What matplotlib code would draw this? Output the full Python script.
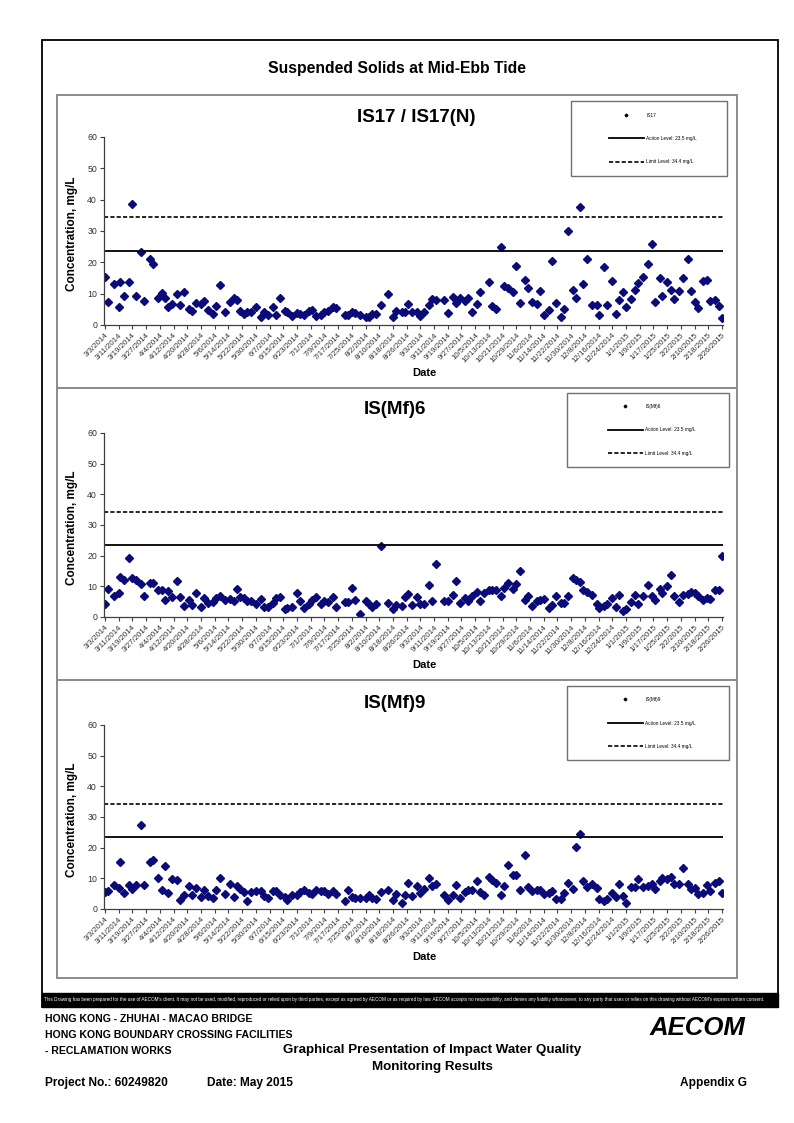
import numpy as np
import pandas as pd
import matplotlib
matplotlib.use("Agg")
import matplotlib.pyplot as plt
from matplotlib.lines import Line2D
from matplotlib.patches import Rectangle

# %% data (days since 3/3/2014, values in mg/L)
start_date = "2014-03-03"
days = [0, 2, 5, 8, 9, 11, 14, 16, 18, 21, 23, 26, 28, 31, 33, 35, 37, 39, 42, 44,
        46, 49, 51, 53, 56, 58, 60, 63, 65, 67, 70, 73, 75, 77, 79, 81, 83, 85, 88, 91,
        93, 95, 98, 100, 102, 105, 106, 109, 112, 114, 116, 119, 121, 123, 126, 128, 130, 133, 135, 140,
        142, 144, 146, 149, 152, 154, 156, 158, 161, 165, 168, 170, 173, 175, 177, 179, 182, 184, 186, 189,
        191, 193, 198, 200, 203, 205, 207, 210, 212, 214, 217, 219, 221, 224, 226, 228, 231, 233, 235, 238,
        240, 242, 245, 247, 249, 252, 254, 256, 259, 261, 263, 266, 268, 270, 273, 275, 277, 279, 281, 284,
        287, 288, 291, 293, 296, 298, 300, 302, 304, 307, 309, 311, 314, 317, 319, 321, 324, 325, 328, 330,
        332, 335, 337, 340, 342, 344, 346, 349, 351, 353, 356, 358, 360]

is17 = [15.2, 7.2, 13.0, 5.9, 13.8, 9.2, 13.6, 38.6, 9.3, 23.3, 7.8, 21.2, 19.4, 8.6, 10.2, 8.6, 5.7, 6.6, 9.8, 6.3,
        10.6, 5.2, 4.5, 7.1, 6.8, 7.6, 4.9, 3.4, 6.1, 12.8, 4.2, 7.2, 8.7, 7.9, 4.4, 3.5, 4.3, 4.0, 5.7, 2.4,
        4.1, 3.3, 5.7, 3.1, 8.7, 4.6, 4.0, 3.0, 3.7, 3.5, 3.3, 4.5, 4.8, 3.0, 3.1, 4.0, 4.5, 5.8, 5.5, 3.2,
        3.3, 4.3, 3.7, 3.3, 2.7, 2.7, 3.6, 3.4, 6.5, 9.8, 2.6, 4.4, 4.1, 4.0, 6.8, 4.3, 4.2, 3.0, 4.3, 6.5,
        8.3, 8.1, 7.9, 3.7, 8.9, 7.0, 8.6, 7.6, 8.6, 4.0, 6.8, 10.6, np.nan, 13.6, 6.1, 5.0, 24.8, 12.5, 11.8, 10.5,
        18.7, 7.1, 14.3, 11.8, 7.5, 6.7, 10.8, 3.1, 4.8, 20.3, 7.1, 2.6, 5.2, 30.0, 11.1, 8.7, 37.7, 13.0, 21.0, 6.4,
        6.4, 3.1, 18.5, 6.4, 14.1, 3.5, 8.0, 10.6, 5.7, 8.4, 11.2, 13.3, 15.3, 19.6, 25.8, 7.3, 14.9, 9.4, 13.6, 11.1,
        8.2, 10.7, 14.9, 21.0, 11.0, 7.3, 5.4, 13.9, 14.4, 7.6, 7.9, 6.0, 2.3]

mf6 = [4.4, 9.2, 6.9, 7.9, 13.1, 12.0, 19.2, 12.7, 12.0, 10.8, 6.9, 11.1, 11.1, 8.7, 8.7, 5.7, 8.4, 6.6, 11.6, 6.6,
       3.7, 5.7, 3.8, 7.9, 3.2, 6.1, 4.7, 4.8, 6.2, 7.0, 5.5, 5.9, 5.3, 9.1, 6.4, 6.1, 5.3, 5.3, 4.4, 6.0,
       3.1, 3.1, 4.7, 6.1, 6.6, 2.6, 3.0, 3.1, 7.7, 5.3, 3.0, 4.2, 5.6, 6.5, 4.1, 5.3, 4.8, 6.4, 3.3, 4.9,
       4.8, 9.3, 5.7, 1.1, 5.1, 4.4, 3.1, 4.4, 23.2, 4.6, 2.6, 3.9, 3.6, 6.5, 7.4, 3.8, 6.5, 4.2, 4.1, 10.5,
       5.3, 17.2, 5.3, 5.3, 7.2, 11.6, 4.7, 6.1, 5.1, 7.0, 8.0, 5.3, 7.8, 8.7, 8.7, 8.7, 6.7, 9.4, 11.0, 9.0,
       10.6, 15.1, 5.7, 6.8, 3.5, 5.3, 5.4, 6.0, 3.0, 3.8, 6.9, 4.6, 4.5, 6.8, 12.6, 12.0, 11.5, 8.8, 8.2, 7.2,
       4.4, 2.8, 3.7, 4.4, 6.1, 3.3, 7.1, 1.8, 2.6, 5.0, 7.2, 4.2, 6.7, 10.4, 6.8, 5.7, 9.1, 7.8, 10.0, 13.8,
       7.0, 5.0, 7.2, 7.4, 8.3, 7.7, 6.9, 5.7, 6.2, 5.8, 8.9, 8.9, 19.9]

mf9 = [5.5, 5.8, 7.7, 7.0, 15.4, 5.3, 7.7, 6.4, 7.8, 27.5, 7.7, 15.2, 16.1, 10.2, 6.1, 13.9, 5.2, 9.9, 9.5, 2.9,
       4.5, 7.5, 4.6, 7.0, 3.9, 6.3, 4.3, 3.6, 6.1, 10.2, 4.8, 8.2, 4.0, 7.5, 6.4, 5.4, 2.7, 5.4, 5.9, 5.9,
       4.1, 3.5, 6.0, 5.8, 4.6, 3.8, 2.9, 4.7, 4.7, 5.4, 6.3, 5.3, 5.0, 6.3, 5.8, 6.0, 4.8, 5.9, 5.0, 2.7,
       6.2, 3.9, 3.5, 3.7, 3.7, 4.6, 3.5, 3.2, 5.7, 6.3, 2.8, 4.9, 2.1, 4.5, 8.6, 4.2, 7.4, 5.1, 6.4, 10.0,
       7.5, 8.3, 4.7, 2.9, 4.5, 7.8, 3.6, 5.4, 6.3, 6.2, 9.1, 5.5, 4.7, 10.4, 9.3, 8.5, 4.7, 7.6, 14.3, 11.1,
       11.1, 6.3, 17.6, 7.1, 5.9, 6.1, 6.3, 4.8, 5.3, 5.9, 3.2, 3.3, 5.2, 8.5, 6.4, 20.3, 24.6, 9.0, 7.3, 8.0,
       6.8, 3.3, 2.6, 3.4, 5.1, 4.0, 8.0, 4.2, 2.0, 7.3, 7.3, 9.8, 7.3, 7.6, 8.0, 6.5, 9.0, 10.1, 9.7, 10.4,
       8.2, 8.2, 13.3, 8.3, 6.6, 7.0, 4.9, 5.3, 7.8, 5.8, 8.6, 9.2, 5.3]

panel_titles = ["IS17 / IS17(N)", "IS(Mf)6", "IS(Mf)9"]
station_names = ["IS17", "IS(Mf)6", "IS(Mf)9"]
series = [is17, mf6, mf9]
action_level = 23.5
limit_level = 34.4
tick_step_days = 8
y_ticks = [0, 10, 20, 30, 40, 50, 60]

# %% helpers (pixel -> figure coords)
W, H = 794, 1123
def fx(px):
    return px / W
def fy(py):
    return 1 - py / H

narrow = ["Liberation Sans Narrow", "Liberation Sans", "DejaVu Sans"]
plt.rcParams["font.family"] = ["Liberation Sans", "DejaVu Sans"]

navy = "#0a0a78"
dates = pd.Timestamp(start_date) + pd.to_timedelta(days, unit="D")
tick_dates = pd.date_range(start_date, periods=46, freq=f"{tick_step_days}D")
tick_labels = [f"{d.month}/{d.day}/{d.year}" for d in tick_dates]

fig = plt.figure(figsize=(W / 100, H / 100), dpi=100)

# outer frame and main title
fig.patches.append(Rectangle((fx(42), fy(1007)), fx(778) - fx(42), fy(40) - fy(1007),
                             transform=fig.transFigure, fill=False, ec="black", lw=1.3))
fig.text(fx(397), fy(68), "Suspended Solids at Mid-Ebb Tide", ha="center", va="center",
         fontsize=11.3, fontweight="bold")

panel_boxes = [(95, 388), (388, 680), (680, 978)]
axis_y = [(137, 325), (433, 617), (725, 909)]
title_pos = [(416, 118), (395, 410), (395, 703)]
legend_boxes = [(571, 101, 727, 176), (567, 393, 729, 467), (567, 686, 729, 760)]

for i in range(3):
    top, bot = panel_boxes[i]
    fig.patches.append(Rectangle((fx(57), fy(bot)), fx(737) - fx(57), fy(top) - fy(bot),
                                 transform=fig.transFigure, fill=False, ec="#8c8c8c", lw=1.4))

    y60, y0 = axis_y[i]
    ax = fig.add_axes([fx(104), fy(y0), fx(723) - fx(104), fy(y60) - fy(y0)])
    ax.plot(dates, series[i], ls="none", marker="D", ms=4.1, color=navy, mec=navy)
    ax.axhline(action_level, color="black", lw=1.3)
    ax.axhline(limit_level, color="black", lw=1.2, ls=(0, (2.5, 1.3)))

    ax.set_ylim(0, 60)
    ax.set_xlim(pd.Timestamp(start_date) - pd.Timedelta(days=0.6),
                tick_dates[-1] + pd.Timedelta(days=0.6))
    ax.set_yticks(y_ticks)
    ax.set_yticklabels([str(v) for v in y_ticks], fontsize=6.3, color="#333333",
                       family=narrow)
    ax.set_xticks(tick_dates)
    ax.set_xticklabels(tick_labels, rotation=45, ha="right", rotation_mode="anchor",
                       fontsize=5.7, color="#333333", family=narrow)
    ax.tick_params(axis="both", direction="out", length=3, width=0.8, color="#404040", pad=2)
    for s in ["top", "right"]:
        ax.spines[s].set_visible(False)
    for s in ["left", "bottom"]:
        ax.spines[s].set_color("#404040")
        ax.spines[s].set_linewidth(0.9)
    ax.patch.set_alpha(0)

    fig.text(fx(title_pos[i][0]), fy(title_pos[i][1]), panel_titles[i], ha="center",
             va="center", fontsize=13.5, fontweight="bold", family=narrow)
    fig.text(fx(72), fy((y60 + y0) / 2 + 3), "Concentration, mg/L", rotation=90, ha="center",
             va="center", fontsize=8.5, fontweight="bold")
    fig.text(fx(424), fy(y0 + 48), "Date", ha="center", va="center", fontsize=8,
             fontweight="bold", family=narrow)

    # legend
    lx0, ly0, lx1, ly1 = legend_boxes[i]
    fig.patches.append(Rectangle((fx(lx0), fy(ly1)), fx(lx1) - fx(lx0), fy(ly0) - fy(ly1),
                                 transform=fig.transFigure, fill=False, ec="#707070", lw=1.0))
    handles = [Line2D([], [], ls="none", marker="D", ms=1.4, color="black"),
               Line2D([], [], color="black", lw=1.3),
               Line2D([], [], color="black", lw=1.2, ls=(0, (2.5, 1.3)))]
    labels = [station_names[i], f"Action Level: {action_level} mg/L",
              f"Limit Level: {limit_level} mg/L"]
    ax.legend(handles, labels, loc="center", bbox_to_anchor=(fx((lx0 + lx1) / 2 + 4), fy((ly0 + ly1) / 2)),
              bbox_transform=fig.transFigure, frameon=False, fontsize=3.4, handlelength=7.3,
              handletextpad=0.6, labelspacing=3.9, borderpad=0.2)

# %% footer
fig.patches.append(Rectangle((fx(42), fy(1007)), fx(778) - fx(42), fy(993) - fy(1007),
                             transform=fig.transFigure, color="black"))
disclaimer = ("This Drawing has been prepared for the use of AECOM's client. It may not be used, modified, "
              "reproduced or relied upon by third parties, except as agreed by AECOM or as required by law. "
              "AECOM accepts no responsibility, and denies any liability whatsoever, to any party that uses "
              "or relies on this drawing without AECOM's express written consent.")
fig.text(fx(44), fy(1000), disclaimer, ha="left", va="center", fontsize=3.33, color="white",
         family=narrow)

left_lines = ["HONG KONG - ZHUHAI - MACAO BRIDGE", "HONG KONG BOUNDARY CROSSING FACILITIES",
              "- RECLAMATION WORKS"]
for k, line in enumerate(left_lines):
    fig.text(fx(45), fy(1019 + 16 * k), line, ha="left", va="center", fontsize=7.6,
             fontweight="bold", family=narrow)
fig.text(fx(432), fy(1050), "Graphical Presentation of Impact Water Quality", ha="center",
         va="center", fontsize=9.6, fontweight="bold", family=narrow)
fig.text(fx(432), fy(1067), "Monitoring Results", ha="center", va="center", fontsize=9.6,
         fontweight="bold", family=narrow)
fig.text(fx(45), fy(1083), "Project No.: 60249820", ha="left", va="center", fontsize=8.6,
         fontweight="bold", family=narrow)
fig.text(fx(207), fy(1083), "Date: May 2015", ha="left", va="center", fontsize=8.6,
         fontweight="bold", family=narrow)
fig.text(fx(747), fy(1083), "Appendix G", ha="right", va="center", fontsize=8.6,
         fontweight="bold", family=narrow)
fig.text(fx(697), fy(1028), "AECOM", ha="center", va="center", fontsize=18.5,
         fontweight="heavy", style="italic")

fig.savefig("out.png", dpi=100)
